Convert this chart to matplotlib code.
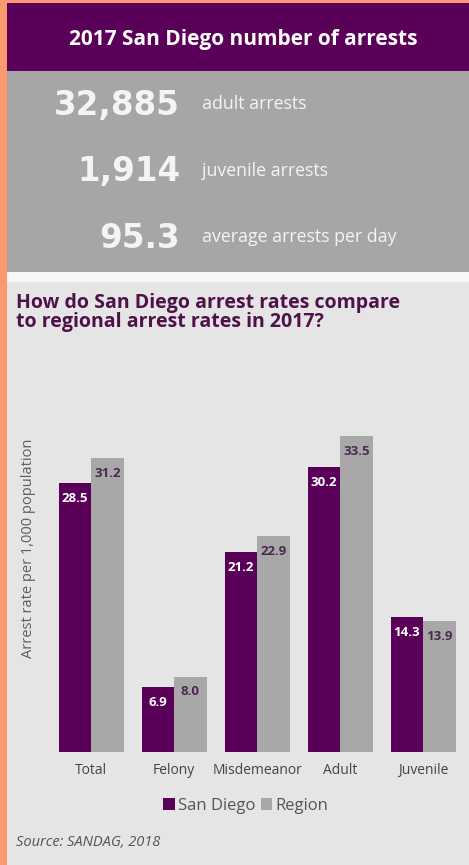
import matplotlib
matplotlib.use("Agg")
import matplotlib.pyplot as plt
from matplotlib.patches import Rectangle

categories = ["Total", "Felony", "Misdemeanor", "Adult", "Juvenile"]
san_diego = [28.5, 6.9, 21.2, 30.2, 14.3]
region = [31.2, 8.0, 22.9, 33.5, 13.9]
stat_values = ["32,885", "1,914", "95.3"]
stat_labels = ["adult arrests", "juvenile arrests", "average arrests per day"]

W, H = 469, 865
PURPLE = "#5a0058"
GRAY_BAR = "#a8a8a8"
PANEL = "#a6a6a6"
BG = "#e6e5e6"
ORANGE = "#fa9a6e"
TITLE_PURPLE = "#4e1249"

plt.rcParams['font.family'] = ['Open Sans', 'DejaVu Sans']

fig = plt.figure(figsize=(W / 100, H / 100), dpi=100)
fig.patch.set_facecolor(ORANGE)


def fx(x):
    return x / W


def fy(y):
    return 1 - y / H


def rect(x0, y0, x1, y1, color):
    fig.patches.append(Rectangle((fx(x0), fy(y1)), fx(x1) - fx(x0), fy(y0) - fy(y1),
                                 transform=fig.transFigure, facecolor=color,
                                 edgecolor="none", zorder=-5))


rect(7, 3, W, 71, PURPLE)
rect(7, 71, W, 272, PANEL)
rect(7, 272, W, 282, "#f7f7f7")
rect(7, 282, W, H, BG)

fig.text(fx(243), fy(39), "2017 San Diego number of arrests", color="white",
         fontsize=15, fontweight="bold", ha="center", va="center")

stat_y = [105, 172, 238]
for v, lab, y in zip(stat_values, stat_labels, stat_y):
    fig.text(fx(180), fy(y), v, color="#f4f4f4", fontsize=23.5, fontweight="bold",
             family="DejaVu Sans", ha="right", va="center")
    fig.text(fx(202), fy(y - 1), lab, color="#f4f4f4", fontsize=12.8,
             ha="left", va="center")

fig.text(fx(16), fy(303), "How do San Diego arrest rates compare", color=TITLE_PURPLE,
         fontsize=14, fontweight="bold", ha="left", va="center")
fig.text(fx(16), fy(322), "to regional arrest rates in 2017?", color=TITLE_PURPLE,
         fontsize=14, fontweight="bold", ha="left", va="center")

# axes
ax_left, ax_right, ax_top, ax_bottom = 40, W, 400, 752
ax = fig.add_axes([fx(ax_left), fy(ax_bottom), (ax_right - ax_left) / W,
                   (ax_bottom - ax_top) / H])
ax.set_zorder(2)
ax.set_facecolor("none")
spacing = 83.0
c0 = 91.0
ax.set_xlim((ax_left - c0) / spacing, (ax_right - c0) / spacing)
ppu = 9.43
ax.set_ylim(0, (ax_bottom - ax_top) / ppu)

bw = 32.5 / spacing
xs = list(range(len(categories)))
b1 = ax.bar([x - bw / 2 for x in xs], san_diego, width=bw, color=PURPLE, label="San Diego")
b2 = ax.bar([x + bw / 2 for x in xs], region, width=bw, color=GRAY_BAR, label="Region")

for rect_, v in zip(b1, san_diego):
    ax.annotate(f"{v:.1f}", (rect_.get_x() + rect_.get_width() / 2, v),
                xytext=(0, -11), textcoords="offset points", ha="center", va="center",
                color="white", fontsize=9.5, fontweight="bold")
for rect_, v in zip(b2, region):
    ax.annotate(f"{v:.1f}", (rect_.get_x() + rect_.get_width() / 2, v),
                xytext=(0, -11), textcoords="offset points", ha="center", va="center",
                color="#4a2a50", fontsize=9.5, fontweight="bold")

ax.set_xticks(xs)
ax.set_xticklabels(categories, fontsize=10, color="#444444")
ax.tick_params(axis="x", length=0, pad=8)
ax.set_yticks([])
for s in ax.spines.values():
    s.set_visible(False)

fig.text(fx(29), fy(548), "Arrest rate per 1,000 population", rotation=90,
         color="#5e5e5e", fontsize=10.5, ha="center", va="center")

leg = fig.legend(handles=[b1, b2], labels=["San Diego", "Region"], loc="center",
                 bbox_to_anchor=(fx(246), fy(806)), ncol=2, frameon=False,
                 fontsize=12, handlelength=0.7, handleheight=0.7, handletextpad=0.2,
                 columnspacing=0.3, labelcolor="#555555")

fig.text(fx(16), fy(842), "Source: SANDAG, 2018", color="#555555", fontsize=10.5,
         style="italic", ha="left", va="center")

fig.savefig("out.png", dpi=100, facecolor=fig.get_facecolor())
